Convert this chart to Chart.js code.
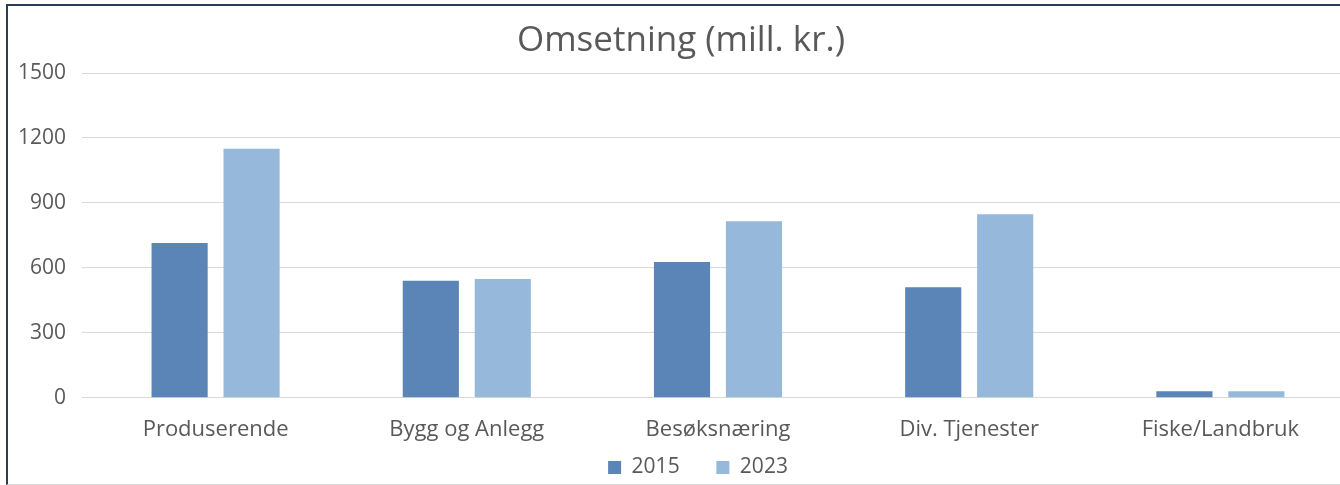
<!DOCTYPE html>
<html>
<head>
<meta charset="utf-8">
<script src="https://cdn.jsdelivr.net/npm/chart.js@4"></script>
<style>
  html, body { margin: 0; padding: 0; background: #fff; overflow: hidden; }
  #wrap {
    position: absolute; left: 6px; top: 4px; width: 1338px; height: 478px;
    border-left: 2px solid #2b3d55; border-top: 2px solid #2b3d55;
    border-bottom: 1px solid #d9d9d9;
  }
  canvas { display: block; }
</style>
</head>
<body>
<div id="wrap"><canvas id="chart"></canvas></div>
<script>
const kategorier = ['Produserende', 'Bygg og Anlegg', 'Besøksnæring', 'Div. Tjenester', 'Fiske/Landbruk'];
const omsetning2015 = [715, 540, 627, 510, 30];
const omsetning2023 = [1150, 548, 815, 847, 30];
const yTicks = [0, 300, 600, 900, 1200, 1500];

const tekstFarge = '#595959';
const font = 'Open Sans';

// flytter legenden litt mot høyre, som i originalen
const flyttLegende = {
  id: 'flyttLegende',
  afterLayout(chart) {
    chart.legend.left += 17;
    chart.legend.right += 17;
  }
};

const ctx = document.getElementById('chart').getContext('2d');
new Chart(ctx, {
  type: 'bar',
  data: {
    labels: kategorier,
    datasets: [{
      label: '2015',
      data: omsetning2015,
      backgroundColor: '#5b84b7',
      borderWidth: 0,
      categoryPercentage: 0.573,
      barPercentage: 0.78
    }, {
      label: '2023',
      data: omsetning2023,
      backgroundColor: '#95b8db',
      borderWidth: 0,
      categoryPercentage: 0.573,
      barPercentage: 0.78
    }]
  },
  plugins: [flyttLegende],
  options: {
    responsive: true,
    maintainAspectRatio: false,
    animation: false,
    layout: { padding: { left: 8, right: 0, top: 14, bottom: -4 } },
    plugins: {
      title: {
        display: true,
        text: 'Omsetning (mill. kr.)',
        color: tekstFarge,
        font: { family: font, size: 35, weight: 'normal' },
        padding: { top: 0, bottom: 11 }
      },
      legend: {
        position: 'bottom',
        labels: {
          color: tekstFarge,
          font: { family: font, size: 21 },
          boxWidth: 13,
          boxHeight: 13,
          padding: 4,
          generateLabels: chart => {
            const items = Chart.defaults.plugins.legend.labels.generateLabels(chart);
            items.forEach((it, i) => { if (i < items.length - 1) it.text += '      '; });
            return items;
          }
        }
      },
      tooltip: { enabled: false }
    },
    scales: {
      x: {
        grid: { display: false },
        border: { display: false },
        ticks: {
          color: tekstFarge,
          font: { family: font, size: 22, lineHeight: 0.33 },
          padding: 20
        }
      },
      y: {
        min: 0,
        max: 1500,
        afterBuildTicks: axis => { axis.ticks = yTicks.map(v => ({ value: v })); },
        afterFit: axis => { axis.width = 74; },
        grid: { color: '#d9d9d9', lineWidth: 1 },
        border: { display: false },
        ticks: {
          color: tekstFarge,
          font: { family: font, size: 21 },
          padding: 16,
          callback: v => String(v)
        }
      }
    }
  }
});
</script>
</body>
</html>
